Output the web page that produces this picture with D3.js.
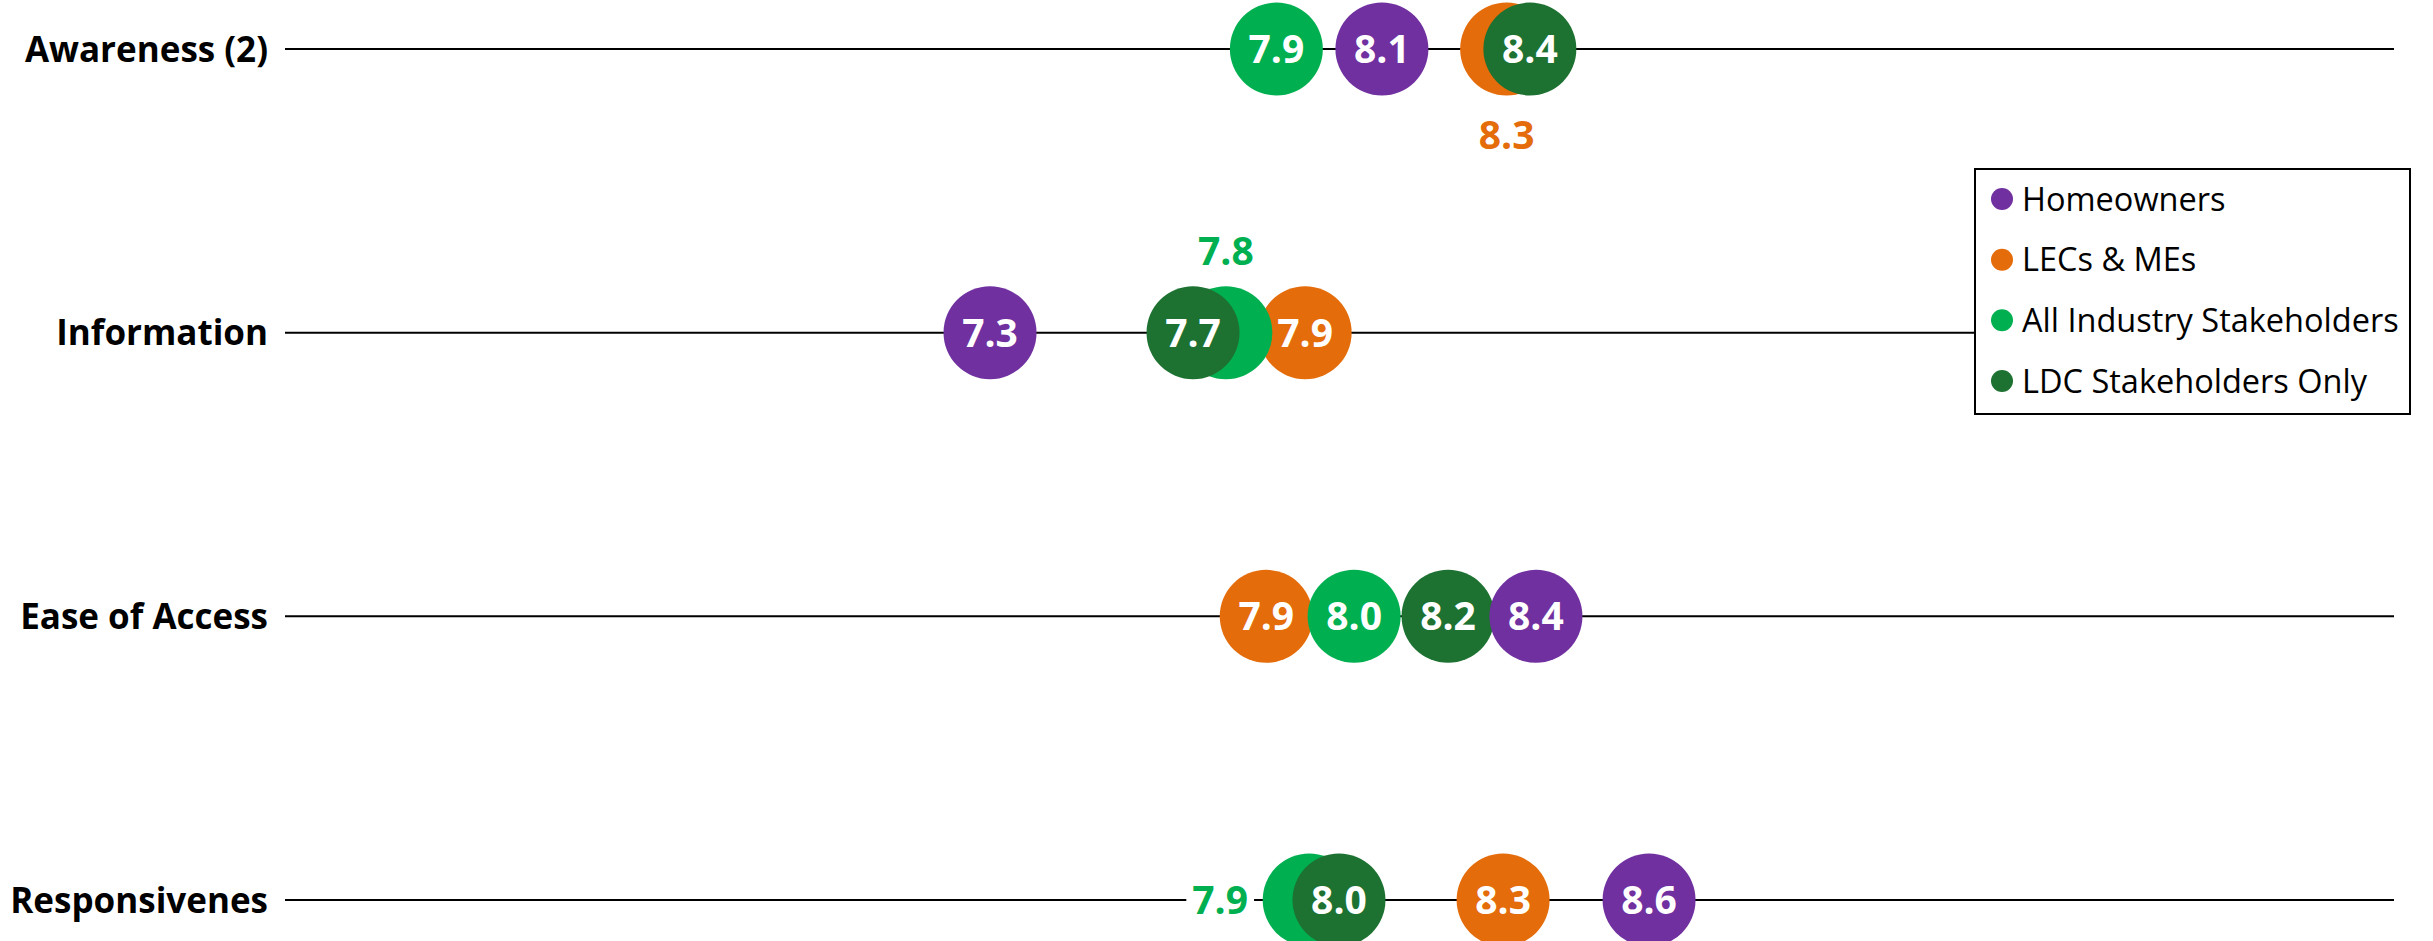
<!DOCTYPE html>
<html>
<head>
<meta charset="utf-8">
<script src="https://cdn.jsdelivr.net/npm/d3@7"></script>
<style>
  html, body { margin: 0; padding: 0; background: #fff; overflow: hidden; }
  svg { display: block; }
</style>
</head>
<body>
<svg id="chart"></svg>
<script>
// rows of the chart, top to bottom
const categories = ["Awareness (2)", "Information", "Ease of Access", "Responsivenes"];

// groups in legend order
const groups = ["Homeowners", "LECs & MEs", "All Industry Stakeholders", "LDC Stakeholders Only"];
const groupColors = ["#7030A0", "#E46C0A", "#00B050", "#1D7131"];

// scores per group, one value per row
const homeowners = [8.081, 7.305, 8.386, 8.610];
const lecs = [8.328, 7.929, 7.852, 8.321];
const allIndustry = [7.872, 7.772, 8.026, 7.937];
const ldcOnly = [8.374, 7.707, 8.212, 7.996];

// order the circles are stacked in (last on top)
const drawOrder = [1, 2, 3, 0];

// values hidden behind another circle get their label outside: [row, group, side]
const outsideLabels = [[0, 1, "below"], [1, 2, "above"], [3, 2, "left"]];

const width = 2433, height = 941;
const seriesValues = [homeowners, lecs, allIndustry, ldcOnly];

const svg = d3.select("#chart").attr("width", width).attr("height", height);

const x = d3.scaleLinear().domain([7, 9]).range([836, 1846]);
const y = d3.scalePoint().domain(categories).range([49, 900]);
const r = 46.5;
const lineStart = 285, lineEnd = 2394;

// flatten into points
const points = [];
categories.forEach((cat, i) => {
  drawOrder.forEach(g => {
    points.push({ cat, row: i, group: g, value: seriesValues[g][i] });
  });
});

// row lines
svg.append("g").selectAll("line")
  .data(categories)
  .join("line")
  .attr("x1", lineStart)
  .attr("x2", lineEnd)
  .attr("y1", d => y(d))
  .attr("y2", d => y(d))
  .attr("stroke", "#000")
  .attr("stroke-width", 2);

// row labels
svg.append("g").selectAll("text")
  .data(categories)
  .join("text")
  .attr("x", 268)
  .attr("y", d => y(d))
  .attr("dy", "0.36em")
  .attr("text-anchor", "end")
  .attr("font-family", "'Open Sans', sans-serif")
  .attr("font-weight", 700)
  .attr("font-size", 35)
  .attr("fill", "#000")
  .text(d => d);

// outside labels (drawn before circles so the circle edges stay clean)
const outG = svg.append("g");
outsideLabels.forEach(([row, g, side]) => {
  const v = seriesValues[g][row];
  let tx = x(v), ty = y(categories[row]);
  if (side === "below") ty += 86;
  if (side === "above") ty -= 82;
  if (side === "left") tx -= 89;
  const t = outG.append("text")
    .attr("x", tx)
    .attr("y", ty)
    .attr("dy", "0.36em")
    .attr("text-anchor", "middle")
    .attr("font-family", "'Open Sans', sans-serif")
    .attr("font-weight", 700)
    .attr("font-size", 39)
    .attr("fill", groupColors[g])
    .text(d3.format(".1f")(v));
  if (side === "left") {
    const bb = t.node().getBBox();
    outG.insert("rect", "text")
      .attr("x", bb.x - 6)
      .attr("y", ty - 6)
      .attr("width", bb.width + 12)
      .attr("height", 12)
      .attr("fill", "#fff");
  }
});

// circles
const dots = svg.append("g").selectAll("g")
  .data(points)
  .join("g")
  .attr("transform", d => `translate(${x(d.value)},${y(d.cat)})`);

dots.append("circle")
  .attr("r", r)
  .attr("fill", d => groupColors[d.group]);

const hidden = new Set(outsideLabels.map(d => d[0] + "-" + d[1]));

dots.filter(d => !hidden.has(d.row + "-" + d.group))
  .append("text")
  .attr("dy", "0.36em")
  .attr("text-anchor", "middle")
  .attr("font-family", "'Open Sans', sans-serif")
  .attr("font-weight", 700)
  .attr("font-size", 39)
  .attr("fill", "#fff")
  .text(d => d3.format(".1f")(d.value));

// legend
const legend = svg.append("g").attr("transform", "translate(1975,169)");
legend.append("rect")
  .attr("width", 435)
  .attr("height", 245)
  .attr("fill", "#fff")
  .attr("stroke", "#000")
  .attr("stroke-width", 2);

const ly = d3.scalePoint().domain(groups).range([30, 212]);

const items = legend.selectAll("g.item")
  .data(groups)
  .join("g")
  .attr("class", "item")
  .attr("transform", d => `translate(0,${ly(d)})`);

items.append("circle")
  .attr("cx", 27)
  .attr("r", 11)
  .attr("fill", (d, i) => groupColors[i]);

items.append("text")
  .attr("x", 47)
  .attr("dy", "0.36em")
  .attr("font-family", "'Open Sans', sans-serif")
  .attr("font-size", 32.5)
  .attr("fill", "#000")
  .text(d => d);
</script>
</body>
</html>
